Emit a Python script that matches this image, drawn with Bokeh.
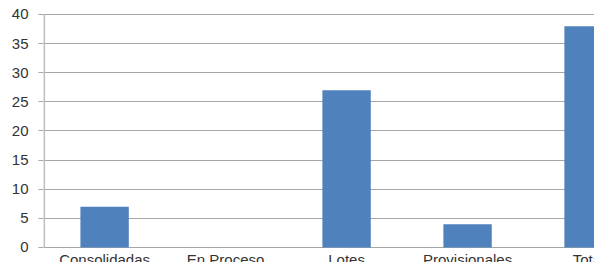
from bokeh.plotting import figure
from bokeh.models import Range1d, FixedTicker, ColumnDataSource
from bokeh.core.properties import value
from bokeh.embed import file_html
from bokeh.resources import INLINE

categories = ["Consolidadas", "En Proceso", "Lotes", "Provisionales", "Total"]
values = [7, 0, 27, 4, 38]
y_ticks = [0, 5, 10, 15, 20, 25, 30, 35, 40]

xs = [i + 0.5 for i in range(len(categories))]
src = ColumnDataSource(dict(x=xs, top=values, label=categories, base=[0] * len(categories)))

FONT = "Liberation Sans"
TEXT_COLOR = "#333333"

p = figure(width=594, height=262, output_backend="svg", toolbar_location=None,
           x_range=Range1d(-0.005, 4.549), y_range=Range1d(-2.58, 40.17),
           min_border_left=43, min_border_right=0, min_border_top=13, min_border_bottom=0,
           x_axis_location=None, outline_line_color=None,
           background_fill_color="white", border_fill_color="white")

p.xgrid.visible = False
p.ygrid.ticker = FixedTicker(ticks=y_ticks)
p.ygrid.grid_line_color = "#A6A6A6"
p.ygrid.grid_line_width = 1

ax = p.yaxis[0]
ax.ticker = FixedTicker(ticks=y_ticks)
ax.axis_line_color = None
ax.major_tick_out = 5
ax.major_tick_in = 0
ax.minor_tick_line_color = None
ax.major_tick_line_color = "#A6A6A6"
ax.major_label_standoff = 10
ax.major_label_text_font = FONT
ax.major_label_text_font_size = "15px"
ax.major_label_text_color = TEXT_COLOR

# y axis line from 0 to 40
p.segment(x0=[0], y0=[y_ticks[0]], x1=[0], y1=[y_ticks[-1]], line_color="#BFBFBF", line_width=2)

p.vbar(x="x", top="top", bottom=0, width=0.4, source=src,
       fill_color="#4F81BD", line_color=None)

p.text(x="x", y="base", text="label", source=src, y_offset=4,
       text_align="center", text_baseline="top",
       text_font=value(FONT), text_font_size="15px", text_color=TEXT_COLOR)

open("out.html", "w").write(file_html(p, INLINE))
